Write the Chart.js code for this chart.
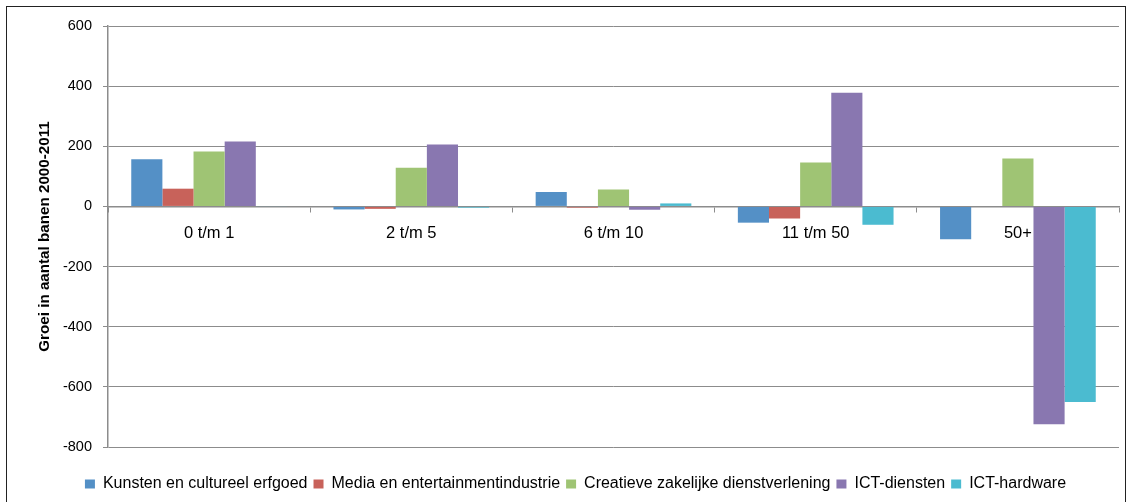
<!DOCTYPE html>
<html>
<head>
<meta charset="utf-8">
<script src="https://cdn.jsdelivr.net/npm/chart.js@4"></script>
<style>
  html, body { margin: 0; padding: 0; background: #fff; }
  #wrap { position: absolute; left: 0; top: 0; width: 1129px; height: 502px; }
  #frame { position: absolute; left: 6px; top: 6px; width: 1120px; height: 500px; border: 1.5px solid #222; box-sizing: border-box; pointer-events: none; }
</style>
</head>
<body>
<div id="wrap"><canvas id="c" width="1129" height="502"></canvas></div>
<div id="frame"></div>
<script>
const categories = ["0 t/m 1", "2 t/m 5", "6 t/m 10", "11 t/m 50", "50+"];
const seriesNames = ["Kunsten en cultureel erfgoed", "Media en entertainmentindustrie", "Creatieve zakelijke dienstverlening", "ICT-diensten", "ICT-hardware"];
const kunsten = [157, -10, 48, -54, -109];
const media = [59, -8, -4, -40, 0];
const creatief = [183, 129, 56, 146, 159];
const ictDiensten = [216, 206, -11, 378, -724];
const ictHardware = [-2, -4, 10, -61, -650];
const yTicks = [600, 400, 200, 0, -200, -400, -600, -800];
const yTitle = "Groei in aantal banen 2000-2011";

const colors = ["#5490C6", "#C8625A", "#9FC474", "#8977B0", "#4BBBD0"];
const values = [kunsten, media, creatief, ictDiensten, ictHardware];

const FONT = "'Liberation Sans', Arial, sans-serif";

new Chart(document.getElementById('c'), {
  type: 'bar',
  data: {
    labels: categories,
    datasets: seriesNames.map((n, i) => ({
      label: n,
      data: values[i],
      backgroundColor: colors[i],
      borderWidth: 0,
      barPercentage: 1.0,
      categoryPercentage: 0.77
    }))
  },
  options: {
    responsive: false,
    animation: false,
    devicePixelRatio: 1,
    layout: { padding: { left: 32, right: 10, top: 26, bottom: 0 } },
    plugins: {
      legend: {
        position: 'bottom',
        title: { display: true, text: ' ', font: { size: 10 }, padding: { top: 0, bottom: 11 } },
        labels: {
          boxWidth: 10, boxHeight: 9, padding: 6,
          color: '#000',
          font: { family: FONT, size: 16 }
        }
      },
      tooltip: { enabled: false }
    },
    scales: {
      x: {
        position: { y: 0 },
        grid: { drawOnChartArea: false, offset: true, tickLength: 5, color: '#8c8c8c', lineWidth: 1 },
        border: { color: '#8c8c8c', width: 1.5 },
        ticks: { color: '#000', font: { family: FONT, size: 16.5 }, padding: 12 }
      },
      y: {
        min: -800, max: 600,
        afterFit: (s) => { s.width = 76; },
        afterBuildTicks: (s) => { s.ticks = yTicks.slice().reverse().map(v => ({ value: v })); },
        grid: { color: '#8c8c8c', lineWidth: 1, tickLength: 5 },
        border: { color: '#8c8c8c', width: 1.5 },
        ticks: { color: '#000', font: { family: FONT, size: 14.5 }, padding: 11 },
        title: {
          display: true, text: yTitle, color: '#000',
          font: { family: FONT, size: 15.2, weight: 'bold' },
          padding: { top: 4, bottom: 0 }
        }
      }
    }
  }
});
</script>
</body>
</html>
